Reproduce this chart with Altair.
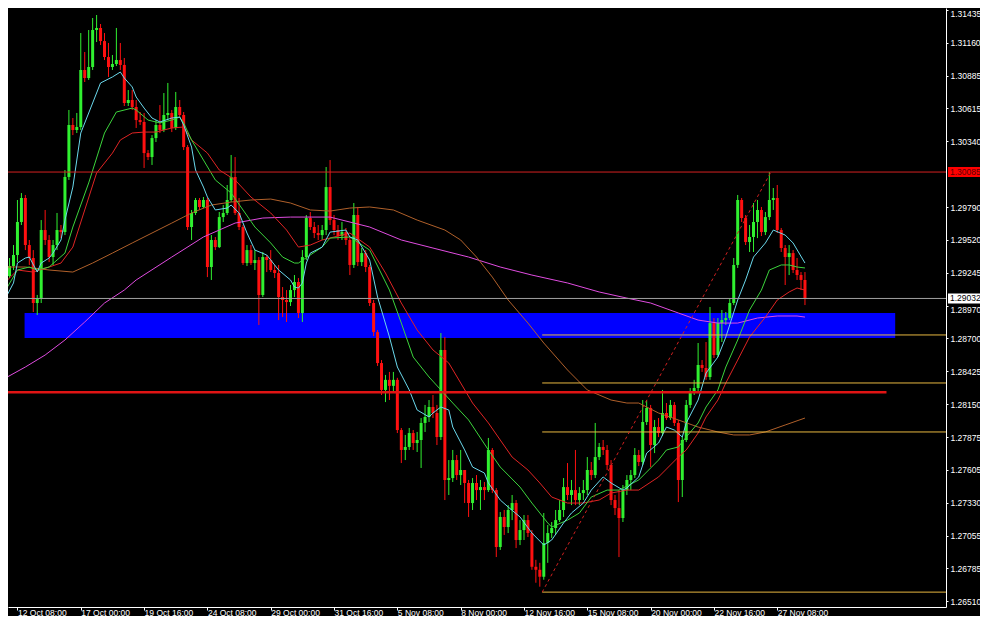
import json
import altair as alt
import pandas as pd

# ---------------- data ----------------
opens = [1.29394, 1.29219, 1.29302, 1.29394, 1.29669, 1.29869, 1.29477, 1.29369, 1.28994, 1.29035,
         1.29602, 1.29519, 1.29377, 1.29477, 1.29602, 1.29585, 1.30044, 1.30477, 1.30435, 1.30460,
         1.30935, 1.30868, 1.30960, 1.31268, 1.31285, 1.31176, 1.31043, 1.30960, 1.30985, 1.31018,
         1.30977, 1.30660, 1.30685, 1.30627, 1.30518, 1.30502, 1.30243, 1.30210, 1.30368, 1.30477,
         1.30435, 1.30560, 1.30577, 1.30452, 1.30627, 1.30560, 1.30293, 1.29627, 1.29744, 1.29852,
         1.29794, 1.29852, 1.29294, 1.29519, 1.29460, 1.29710, 1.29744, 1.29852, 1.30044, 1.29744,
         1.29627, 1.29327, 1.29435, 1.29327, 1.29352, 1.29061, 1.29377, 1.29352, 1.29269, 1.29244,
         1.29044, 1.29019, 1.29002, 1.29102, 1.29169, 1.28911, 1.29377, 1.29702, 1.29627, 1.29577,
         1.29560, 1.29602, 1.29960, 1.29685, 1.29602, 1.29552, 1.29585, 1.29519, 1.29311, 1.29727,
         1.29335, 1.29410, 1.29294, 1.28994, 1.28752, 1.28494, 1.28270, 1.28354, 1.28304, 1.28354,
         1.27936, 1.27770, 1.27795, 1.27911, 1.27828, 1.27853, 1.27995, 1.28045, 1.28128, 1.28078,
         1.27878, 1.28603, 1.27520, 1.27536, 1.27686, 1.27561, 1.27603, 1.27495, 1.27328, 1.27495,
         1.27436, 1.27461, 1.27436, 1.27770, 1.27436, 1.26962, 1.27212, 1.27128, 1.27270, 1.27328,
         1.27020, 1.27103, 1.27186, 1.27078, 1.26797, 1.26772, 1.26714, 1.26995, 1.27078, 1.27120,
         1.27186, 1.27270, 1.27461, 1.27395, 1.27436, 1.27353, 1.27411, 1.27436, 1.27603, 1.27561,
         1.27711, 1.27795, 1.27770, 1.27645, 1.27353, 1.27286, 1.27203, 1.27436, 1.27520, 1.27561,
         1.27728, 1.27670, 1.28003, 1.28120, 1.27811, 1.27961, 1.27911, 1.28078, 1.28036, 1.28145,
         1.27995, 1.27520, 1.27853, 1.28145, 1.28245, 1.28286, 1.28478, 1.28453, 1.28378, 1.28827,
         1.28561, 1.28827, 1.28852, 1.28869, 1.28994, 1.29311, 1.29852, 1.29702, 1.29502, 1.29544,
         1.29669, 1.29769, 1.29585, 1.29710, 1.29852, 1.29869, 1.29602, 1.29452, 1.29377, 1.29410,
         1.29269, 1.29227, 1.29186]

highs = [1.29435, 1.29369, 1.29477, 1.29852, 1.29910, 1.29894, 1.29519, 1.29435, 1.29061, 1.29685,
         1.29769, 1.29560, 1.29519, 1.29744, 1.29644, 1.30102, 1.30602, 1.30535, 1.30577, 1.31243,
         1.31085, 1.31268, 1.31368, 1.31393, 1.31318, 1.31243, 1.31160, 1.31060, 1.31285, 1.31160,
         1.31035, 1.30768, 1.30768, 1.30685, 1.30585, 1.30577, 1.30268, 1.30393, 1.30518, 1.30643,
         1.30743, 1.30827, 1.30602, 1.30752, 1.30685, 1.30585, 1.30310, 1.29769, 1.29869, 1.29869,
         1.29877, 1.29869, 1.29560, 1.29544, 1.29752, 1.29810, 1.29977, 1.30227, 1.30210, 1.29869,
         1.29644, 1.29477, 1.29477, 1.29435, 1.29377, 1.29419, 1.29394, 1.29435, 1.29311, 1.29311,
         1.29127, 1.29102, 1.29144, 1.29227, 1.29202, 1.29435, 1.29727, 1.29752, 1.29669, 1.29644,
         1.29644, 1.30127, 1.30185, 1.29727, 1.29644, 1.29669, 1.29619, 1.29544, 1.29827, 1.29794,
         1.29452, 1.29435, 1.29311, 1.29019, 1.28769, 1.28519, 1.28395, 1.28420, 1.28420, 1.28371,
         1.27953, 1.27895, 1.27953, 1.27936, 1.27920, 1.28036, 1.28145, 1.28186, 1.28228, 1.28145,
         1.28744, 1.28711, 1.27686, 1.27770, 1.27728, 1.27770, 1.27603, 1.27520, 1.27536, 1.27561,
         1.27520, 1.27503, 1.27870, 1.27786, 1.27453, 1.27253, 1.27270, 1.27311, 1.27395, 1.27353,
         1.27186, 1.27228, 1.27228, 1.27103, 1.26855, 1.26830, 1.27245, 1.27145, 1.27170, 1.27270,
         1.27353, 1.27536, 1.27661, 1.27520, 1.27770, 1.27461, 1.27520, 1.27711, 1.27670, 1.27995,
         1.27828, 1.27853, 1.27811, 1.27686, 1.27395, 1.27436, 1.27478, 1.27561, 1.27603, 1.27786,
         1.27770, 1.28186, 1.28186, 1.28145, 1.28020, 1.28036, 1.28270, 1.28161, 1.28186, 1.28169,
         1.28020, 1.27878, 1.28186, 1.28286, 1.28354, 1.28661, 1.28519, 1.28669, 1.28961, 1.28869,
         1.28869, 1.28936, 1.28919, 1.29035, 1.29369, 1.29894, 1.29869, 1.29727, 1.29644, 1.29827,
         1.29852, 1.29794, 1.29752, 1.30085, 1.29952, 1.29977, 1.29619, 1.29477, 1.29477, 1.29435,
         1.29369, 1.29252, 1.29252]

lows = [1.29186, 1.29202, 1.29269, 1.29335, 1.29644, 1.29435, 1.29311, 1.28919, 1.28894, 1.28994,
        1.29477, 1.29335, 1.29311, 1.29435, 1.29535, 1.29560, 1.30019, 1.30393, 1.30410, 1.30435,
        1.30835, 1.30852, 1.30935, 1.31168, 1.31143, 1.31018, 1.30877, 1.30935, 1.30968, 1.30935,
        1.30635, 1.30635, 1.30602, 1.30452, 1.30477, 1.30119, 1.30185, 1.30144, 1.30335, 1.30410,
        1.30418, 1.30518, 1.30418, 1.30435, 1.30535, 1.30268, 1.29602, 1.29519, 1.29727, 1.29769,
        1.29785, 1.29210, 1.29186, 1.29435, 1.29452, 1.29669, 1.29727, 1.29835, 1.29727, 1.29602,
        1.29311, 1.29302, 1.29311, 1.29269, 1.28811, 1.29044, 1.29252, 1.29252, 1.29202, 1.28852,
        1.28877, 1.28836, 1.28969, 1.29044, 1.28869, 1.28836, 1.29352, 1.29602, 1.29535, 1.29519,
        1.29519, 1.29560, 1.29644, 1.29560, 1.29519, 1.29519, 1.29477, 1.29227, 1.29286, 1.29302,
        1.29302, 1.29252, 1.28969, 1.28719, 1.28470, 1.28228, 1.28169, 1.28186, 1.28253, 1.27911,
        1.27661, 1.27686, 1.27770, 1.27770, 1.27753, 1.27620, 1.27920, 1.28003, 1.28036, 1.27811,
        1.27853, 1.27353, 1.27395, 1.27503, 1.27520, 1.27478, 1.27328, 1.27212, 1.27270, 1.27353,
        1.27270, 1.27353, 1.27420, 1.27411, 1.26878, 1.26937, 1.27062, 1.27078, 1.27186, 1.26953,
        1.26978, 1.27020, 1.27045, 1.26772, 1.26664, 1.26631, 1.26689, 1.26830, 1.27037, 1.27062,
        1.27170, 1.27212, 1.27353, 1.27311, 1.27311, 1.27311, 1.27353, 1.27395, 1.27520, 1.27536,
        1.27686, 1.27728, 1.27603, 1.27311, 1.27228, 1.26878, 1.27170, 1.27395, 1.27436, 1.27536,
        1.27636, 1.27645, 1.27978, 1.27628, 1.27744, 1.27878, 1.27886, 1.28020, 1.28020, 1.27970,
        1.27336, 1.27378, 1.27836, 1.28120, 1.28228, 1.28253, 1.28420, 1.28354, 1.28354, 1.28536,
        1.28544, 1.28669, 1.28811, 1.28852, 1.28977, 1.29286, 1.29669, 1.29477, 1.29419, 1.29419,
        1.29535, 1.29552, 1.29560, 1.29685, 1.29769, 1.29577, 1.29419, 1.29144, 1.29227, 1.29244,
        1.29186, 1.29102, 1.28977]

closes = [1.29219, 1.29302, 1.29394, 1.29669, 1.29869, 1.29477, 1.29369, 1.28994, 1.29035, 1.29602,
          1.29519, 1.29377, 1.29477, 1.29602, 1.29585, 1.30044, 1.30477, 1.30435, 1.30460, 1.30935,
          1.30868, 1.30960, 1.31268, 1.31285, 1.31176, 1.31043, 1.30960, 1.30985, 1.31018, 1.30977,
          1.30660, 1.30685, 1.30627, 1.30518, 1.30502, 1.30243, 1.30210, 1.30368, 1.30477, 1.30435,
          1.30560, 1.30577, 1.30452, 1.30627, 1.30560, 1.30293, 1.29627, 1.29744, 1.29852, 1.29794,
          1.29852, 1.29294, 1.29519, 1.29460, 1.29710, 1.29744, 1.29852, 1.30044, 1.29744, 1.29627,
          1.29327, 1.29435, 1.29327, 1.29352, 1.29061, 1.29377, 1.29352, 1.29269, 1.29244, 1.29044,
          1.29019, 1.29002, 1.29102, 1.29169, 1.28911, 1.29377, 1.29702, 1.29627, 1.29577, 1.29560,
          1.29602, 1.29960, 1.29685, 1.29602, 1.29552, 1.29585, 1.29519, 1.29311, 1.29727, 1.29335,
          1.29410, 1.29294, 1.28994, 1.28752, 1.28494, 1.28270, 1.28354, 1.28304, 1.28354, 1.27936,
          1.27770, 1.27795, 1.27911, 1.27828, 1.27853, 1.27995, 1.28045, 1.28128, 1.28078, 1.27878,
          1.28603, 1.27520, 1.27536, 1.27686, 1.27561, 1.27603, 1.27495, 1.27328, 1.27495, 1.27436,
          1.27461, 1.27436, 1.27770, 1.27436, 1.26962, 1.27212, 1.27128, 1.27270, 1.27328, 1.27020,
          1.27103, 1.27186, 1.27078, 1.26797, 1.26772, 1.26714, 1.26995, 1.27078, 1.27120, 1.27186,
          1.27270, 1.27461, 1.27395, 1.27436, 1.27353, 1.27411, 1.27436, 1.27603, 1.27561, 1.27711,
          1.27795, 1.27770, 1.27645, 1.27353, 1.27286, 1.27203, 1.27436, 1.27520, 1.27561, 1.27728,
          1.27670, 1.28003, 1.28120, 1.27811, 1.27961, 1.27911, 1.28078, 1.28036, 1.28145, 1.27995,
          1.27520, 1.27853, 1.28145, 1.28245, 1.28286, 1.28478, 1.28453, 1.28378, 1.28827, 1.28561,
          1.28827, 1.28852, 1.28869, 1.28994, 1.29311, 1.29852, 1.29702, 1.29502, 1.29544, 1.29669,
          1.29769, 1.29585, 1.29710, 1.29852, 1.29869, 1.29602, 1.29452, 1.29377, 1.29410, 1.29269,
          1.29227, 1.29186, 1.29032]

# moving-average lines, sampled (bar index, price)
cyan_bars = [0, 2, 3, 5, 6, 8, 9, 11, 12, 14, 15, 17, 19, 22, 24, 27, 29, 30, 32, 33, 35, 37, 39, 42, 44, 45,
             47, 48, 50, 51, 53, 56, 57, 59, 61, 63, 66, 67, 69, 72, 73, 74, 75, 76, 77, 80, 82, 86, 87, 89,
             92, 94, 97, 99, 102, 104, 107, 108, 110, 112, 113, 116, 118, 121, 122, 125, 127, 130, 133, 136,
             138, 141, 143, 146, 148, 151, 153, 156, 157, 160, 162, 165, 167, 169, 171, 172, 175, 177, 180,
             182, 185, 187, 189, 192, 194, 197, 199, 202]
cyan_vals = [1.29035, 1.29161, 1.29327, 1.29369, 1.29377, 1.29252, 1.29327, 1.29369, 1.29410, 1.29519,
             1.29685, 1.29960, 1.30410, 1.30660, 1.30827, 1.30877, 1.30918, 1.30868, 1.30794, 1.30710,
             1.30618, 1.30535, 1.30502, 1.30535, 1.30543, 1.30477, 1.30293, 1.30102, 1.29960, 1.29877,
             1.29769, 1.29785, 1.29810, 1.29744, 1.29577, 1.29435, 1.29394, 1.29352, 1.29269, 1.29186,
             1.29127, 1.29119, 1.29161, 1.29327, 1.29410, 1.29460, 1.29585, 1.29602, 1.29544, 1.29519,
             1.29352, 1.29044, 1.28711, 1.28461, 1.28270, 1.28103, 1.28045, 1.28078, 1.28128, 1.28103,
             1.27961, 1.27770, 1.27628, 1.27578, 1.27495, 1.27353, 1.27295, 1.27212, 1.27078, 1.26978,
             1.27020, 1.27162, 1.27245, 1.27328, 1.27436, 1.27545, 1.27495, 1.27436, 1.27453, 1.27545,
             1.27744, 1.27828, 1.27961, 1.27936, 1.27878, 1.27995, 1.28186, 1.28411, 1.28544, 1.28711,
             1.29019, 1.29186, 1.29377, 1.29494, 1.29602, 1.29560, 1.29494, 1.29327]

green_bars = [0, 3, 6, 8, 11, 13, 15, 17, 21, 25, 28, 32, 33, 36, 39, 42, 44, 45, 47, 50, 53, 57, 60, 63, 67,
              70, 73, 74, 77, 80, 82, 87, 92, 97, 100, 103, 107, 110, 113, 117, 122, 125, 130, 133, 137,
              138, 142, 145, 148, 152, 155, 160, 165, 167, 170, 172, 175, 177, 180, 182, 185, 188, 191, 193,
              196, 198, 200, 202]
green_vals = [1.29102, 1.29269, 1.29294, 1.29269, 1.29294, 1.29352, 1.29410, 1.29627, 1.29994, 1.30410,
              1.30585, 1.30618, 1.30602, 1.30518, 1.30494, 1.30518, 1.30543, 1.30494, 1.30352, 1.30185,
              1.30019, 1.29910, 1.29769, 1.29627, 1.29494, 1.29377, 1.29327, 1.29327, 1.29394, 1.29460,
              1.29535, 1.29544, 1.29435, 1.29102, 1.28827, 1.28544, 1.28378, 1.28270, 1.28161, 1.28020,
              1.27770, 1.27628, 1.27461, 1.27328, 1.27162, 1.27128, 1.27186, 1.27245, 1.27378, 1.27436,
              1.27436, 1.27520, 1.27686, 1.27770, 1.27795, 1.27878, 1.27995, 1.28128, 1.28270, 1.28461,
              1.28686, 1.28936, 1.29102, 1.29269, 1.29311, 1.29311, 1.29294, 1.29286]

red_bars = [0, 3, 7, 11, 14, 17, 20, 23, 27, 29, 32, 35, 38, 42, 45, 47, 51, 54, 58, 62, 67, 71, 74, 77, 80,
            83, 87, 92, 96, 100, 104, 108, 112, 115, 118, 122, 125, 128, 132, 135, 138, 142, 146, 150, 153,
            157, 160, 165, 170, 172, 175, 177, 180, 182, 185, 188, 192, 195, 198, 200, 202]
red_vals = [1.29169, 1.29269, 1.29252, 1.29294, 1.29327, 1.29460, 1.29769, 1.30077, 1.30243, 1.30352,
            1.30410, 1.30418, 1.30418, 1.30452, 1.30460, 1.30352, 1.30243, 1.30102, 1.30019, 1.29877,
            1.29744, 1.29602, 1.29460, 1.29477, 1.29519, 1.29544, 1.29577, 1.29460, 1.29244, 1.28994,
            1.28769, 1.28603, 1.28494, 1.28328, 1.28161, 1.27995, 1.27853, 1.27711, 1.27603, 1.27495,
            1.27378, 1.27328, 1.27328, 1.27353, 1.27411, 1.27436, 1.27436, 1.27545, 1.27711, 1.27770,
            1.27911, 1.28045, 1.28186, 1.28328, 1.28519, 1.28711, 1.28877, 1.29019, 1.29086, 1.29119,
            1.29102]

brown_bars = [0, 5, 11, 17, 22, 27, 32, 37, 42, 47, 52, 57, 62, 67, 72, 77, 82, 87, 92, 98, 104, 111, 115,
              119, 123, 127, 132, 136, 142, 147, 153, 157, 160, 165, 170, 175, 180, 184, 188, 192, 197, 202]
brown_vals = [1.29294, 1.29294, 1.29269, 1.29252, 1.29327, 1.29410, 1.29494, 1.29577, 1.29660, 1.29744,
              1.29810, 1.29835, 1.29852, 1.29860, 1.29827, 1.29769, 1.29760, 1.29785, 1.29794, 1.29769,
              1.29685, 1.29602, 1.29519, 1.29377, 1.29210, 1.29019, 1.28827, 1.28661, 1.28436, 1.28270,
              1.28186, 1.28161, 1.28161, 1.28078, 1.28020, 1.27961, 1.27920, 1.27895, 1.27895, 1.27920,
              1.27978, 1.28036]

magenta_bars = [0, 5, 10, 15, 20, 25, 30, 33, 42, 50, 54, 58, 65, 72, 82, 92, 100, 108, 117, 125, 133, 142,
                150, 157, 163, 170, 175, 180, 185, 190, 195, 200, 202]
magenta_vals = [1.28370, 1.28461, 1.28561, 1.28686, 1.28836, 1.28994, 1.29102, 1.29186, 1.29377, 1.29544,
                1.29602, 1.29660, 1.29702, 1.29710, 1.29710, 1.29627, 1.29519, 1.29452, 1.29377, 1.29294,
                1.29227, 1.29161, 1.29086, 1.29035, 1.28994, 1.28911, 1.28852, 1.28827, 1.28827, 1.28869,
                1.28886, 1.28886, 1.28877]

# drawn objects
zone_bars = [4.8, 224.8]
zone_prices = [1.28911, 1.28702]
support_bars = [-0.125, 222.6]
support_price = 1.2825
fib_start_bar = 135.6
fib_levels = [1.28728, 1.28328, 1.27920, 1.26586]
trend_bars = [135.6, 193.4]
trend_prices = [1.26586, 1.30085]
resistance_price = 1.30085
bid_price = 1.29032

time_tick_bars = [3, 19, 35, 51, 67, 83, 99, 115, 131, 147, 163, 179, 195]
time_tick_labels = ["12 Oct 08:00", "17 Oct 00:00", "19 Oct 16:00", "24 Oct 08:00", "29 Oct 00:00",
                    "31 Oct 16:00", "5 Nov 08:00", "8 Nov 00:00", "12 Nov 16:00", "15 Nov 08:00",
                    "20 Nov 00:00", "22 Nov 16:00", "27 Nov 08:00"]
price_ticks = [1.31435, 1.31160, 1.30885, 1.30615, 1.30340, 1.29790, 1.29520, 1.29245,
               1.28970, 1.28700, 1.28425, 1.28150, 1.27875, 1.27605, 1.27330, 1.27055, 1.26785, 1.26510]

# ---------------- chart ----------------
# The page adds an 8px margin, so the plot starts 8px in and the whole
# drawing is kept inside 972 x 608.
FONT = "Liberation Sans"
FS = 8.5
W, H = 938, 599
XS = alt.Scale(domain=[1.875, 236.375], nice=False, zero=False)
YS = alt.Scale(domain=[1.26462, 1.314514], nice=False, zero=False)

GREEN = "#30f030"
RED = "#ff1010"

candles = pd.DataFrame({"bar": list(range(len(closes))), "open": opens, "high": highs,
                        "low": lows, "close": closes})

label_expr = "{}[indexof({}, datum.value)]".format(json.dumps(time_tick_labels), json.dumps(time_tick_bars))

x_axis = alt.Axis(orient="bottom", values=time_tick_bars, labelExpr=label_expr, grid=False, title=None,
                  domainColor="#ffffff", tickColor="#ffffff", labelColor="#ffffff", tickSize=3,
                  labelAlign="left", labelBaseline="alphabetic", labelPadding=5, labelOffset=0,
                  labelFont=FONT, labelFontSize=FS, labelOverlap=False, labelFlush=False)
y_axis = alt.Axis(orient="right", values=price_ticks, format=".5f", grid=False, title=None,
                  domainColor="#ffffff", tickColor="#ffffff", labelColor="#ffffff", tickSize=2,
                  labelPadding=2, labelFont=FONT, labelFontSize=FS, labelOverlap=False,
                  labelFlush=False, labelBaseline="middle",
                  labelOffset={"condition": [{"test": "datum.value > 1.314", "value": 3.5},
                                             {"test": "abs(datum.value - 1.2897) < 0.0001", "value": 3.5}],
                               "value": 0})


def X(field):
    return alt.X(field, type="quantitative", scale=XS, axis=x_axis)


def Y(field):
    return alt.Y(field, type="quantitative", scale=YS, axis=y_axis)


layers = []

# blue zone (background object)
zone_df = pd.DataFrame({"x1": [zone_bars[0]], "x2": [zone_bars[1]],
                        "y1": [zone_prices[0]], "y2": [zone_prices[1]]})
layers.append(alt.Chart(zone_df).mark_rect(color="#0000ff", clip=True).encode(
    x=X("x1"), x2="x2", y=Y("y1"), y2="y2"))

# candle wicks and bodies
dir_color = alt.when(alt.datum.close >= alt.datum.open).then(alt.value(GREEN)).otherwise(alt.value(RED))
base = alt.Chart(candles)
layers.append(base.mark_rule(strokeWidth=1, clip=True).encode(x=X("bar"), y=Y("low"), y2="high",
                                                              color=dir_color))
layers.append(base.mark_bar(size=3, clip=True).encode(x=X("bar"), y=Y("open"), y2="close",
                                                      color=dir_color))

# moving averages
for bars_, vals_, col in [(magenta_bars, magenta_vals, "#e04ce0"),
                          (brown_bars, brown_vals, "#b0602a"),
                          (red_bars, red_vals, "#e02424"),
                          (green_bars, green_vals, "#3cd43c"),
                          (cyan_bars, cyan_vals, "#6ad8ec")]:
    df = pd.DataFrame({"bar": bars_, "price": vals_})
    layers.append(alt.Chart(df).mark_line(color=col, strokeWidth=1, clip=True).encode(
        x=X("bar"), y=Y("price")))

# horizontal lines
layers.append(alt.Chart(pd.DataFrame({"price": [resistance_price]})).mark_rule(
    color="#d42020", strokeWidth=1).encode(y=Y("price")))
layers.append(alt.Chart(pd.DataFrame({"price": [bid_price]})).mark_rule(
    color="#a0a0a0", strokeWidth=1).encode(y=Y("price")))
sup_df = pd.DataFrame({"x1": [support_bars[0]], "x2": [support_bars[1]], "price": [support_price]})
layers.append(alt.Chart(sup_df).mark_rule(color="#e01414", strokeWidth=2.5, clip=True).encode(
    x=X("x1"), x2="x2", y=Y("price")))

# fibonacci levels
fib_df = pd.DataFrame({"x1": [fib_start_bar] * len(fib_levels), "price": fib_levels})
layers.append(alt.Chart(fib_df).mark_rule(color="#e8b840", strokeWidth=1).encode(
    x=X("x1"), x2=alt.value(W), y=Y("price")))
trend_df = pd.DataFrame({"bar": trend_bars, "price": trend_prices})
layers.append(alt.Chart(trend_df).mark_line(color="#d02020", strokeWidth=1, strokeDash=[3, 3]).encode(
    x=X("bar"), y=Y("price")))

# price tags on the axis
TAG = "M-1,-0.3L1,-0.3L1,0.3L-1,0.3Z"
for price, bg, fg in [(resistance_price, "#ff0000", "#5a0000"), (bid_price, "#ffffff", "#000000")]:
    tdf = pd.DataFrame({"price": [price], "label": ["{:.5f}".format(price)]})
    layers.append(alt.Chart(tdf).mark_point(shape=TAG, size=1089, filled=True, color=bg, opacity=1,
                                            strokeWidth=0).encode(x=alt.value(W + 18.5), y=Y("price")))
    layers.append(alt.Chart(tdf).mark_text(align="left", baseline="middle", color=fg, font=FONT,
                                           fontSize=FS).encode(x=alt.value(W + 4), y=Y("price"),
                                                               text="label"))

chart = alt.layer(*layers).properties(
    width=W, height=H,
    padding={"left": 0, "top": 0, "right": 34, "bottom": 9},
    autosize=alt.AutoSizeParams(type="none"),
    background="#000000",
).configure_view(strokeWidth=0)

chart.save("out.html", embed_options={"renderer": "svg", "actions": False})
